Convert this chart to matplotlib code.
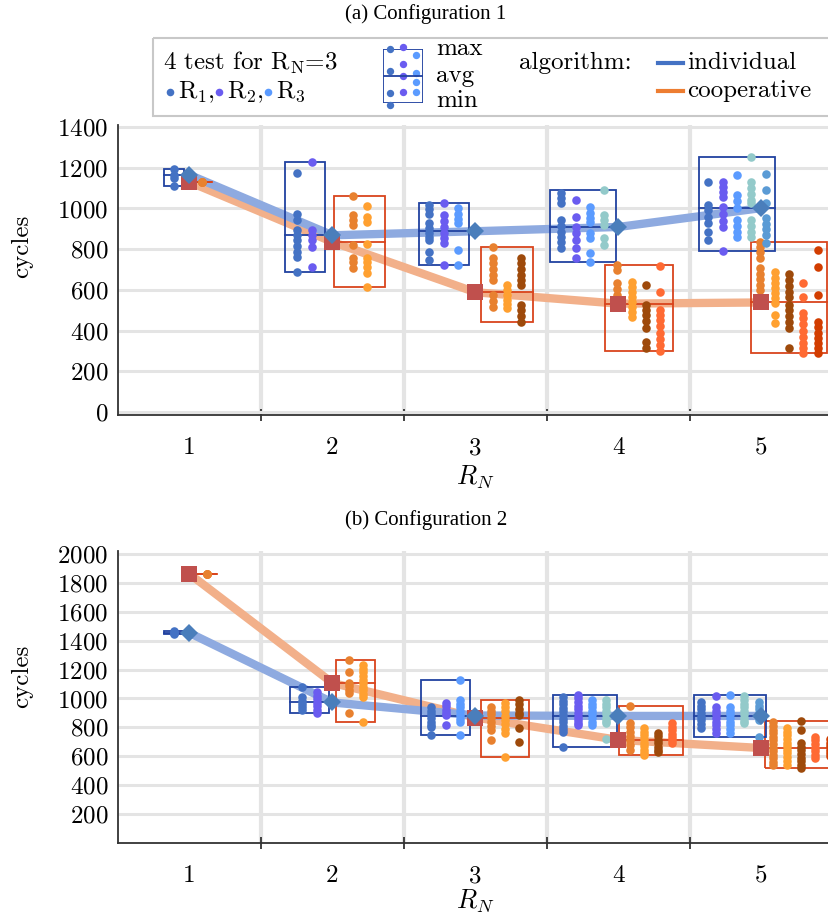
import matplotlib
matplotlib.use("Agg")
import matplotlib.pyplot as plt
from matplotlib.patches import Rectangle

plt.rcParams["font.family"] = "cmr10"
plt.rcParams["mathtext.fontset"] = "cm"
plt.rcParams["axes.formatter.use_mathtext"] = True

rn = [1, 2, 3, 4, 5]

# cycles per test, one list per robot
c1_ind = [
    [[1192, 1165, 1150, 1112]],
    [[1175, 975, 945, 895, 870, 845, 815, 785, 760, 690],
     [1230, 895, 870, 845, 810, 710]],
    [[1015, 995, 975, 930, 905, 880, 860, 845, 786, 747],
     [1027, 968, 940, 910, 880, 855, 830, 722],
     [1000, 975, 950, 930, 796, 722]],
    [[1076, 1050, 1027, 943, 915, 885, 860, 835, 806],
     [1042, 958, 909, 880, 845, 806, 757],
     [1007, 980, 955, 934, 880, 855, 781, 737],
     [1091, 968, 945, 919, 855, 820]],
    [[1130, 1017, 990, 960, 929, 885, 845],
     [1130, 1105, 1080, 1056, 1007, 975, 940, 909, 791],
     [1164, 1066, 1035, 1002, 943, 915, 885, 860],
     [1253, 1130, 1100, 1070, 1040, 1027, 943, 915, 885, 860],
     [1170, 1091, 1027, 953, 925, 900, 870, 830]],
]
c1_coop = [
    [[1130, 1130, 1130, 1130]],
    [[1061, 968, 945, 920, 820, 757, 735, 708],
     [1012, 958, 934, 825, 757, 735, 710, 683, 614]],
    [[811, 757, 730, 700, 675, 649, 575, 545, 516],
     [624, 600, 575, 550, 530, 511],
     [757, 730, 700, 675, 650, 624, 526, 500, 470, 442]],
    [[722, 698, 634, 605, 575, 536],
     [639, 615, 590, 565, 540, 515, 490, 467],
     [624, 526, 500, 475, 445, 413, 344, 315],
     [717, 590, 501, 475, 450, 420, 390, 360, 330, 300]],
    [[835, 810, 785, 757, 708, 680, 655, 625, 600],
     [688, 660, 635, 610, 585, 560, 536, 477, 437],
     [678, 650, 620, 590, 565, 526, 500, 470, 440, 413, 315],
     [634, 565, 487, 460, 430, 400, 370, 340, 315, 290],
     [796, 713, 575, 442, 415, 390, 365, 340, 315, 290]],
]
c1_ind_avg = [1165, 868, 888, 909, 1002]
c1_coop_avg = [1130, 835, 588, 532, 538]

c2_ind = [
    [[1445, 1450, 1455, 1465]],
    [[1080, 1010, 985, 960, 940, 920],
     [1045, 1020, 995, 970, 945, 920, 900]],
    [[941, 915, 890, 865, 840, 815, 803, 747],
     [969, 945, 920, 900, 886, 817],
     [1128, 990, 965, 940, 910, 885, 860, 837, 747]],
    [[1010, 985, 960, 935, 910, 885, 860, 835, 810, 790, 768, 664],
     [1024, 1000, 975, 950, 925, 900, 875, 850, 830, 817],
     [990, 965, 940, 915, 890, 865, 840, 817],
     [990, 965, 940, 915, 890, 865, 845, 830, 720]],
    [[976, 950, 925, 900, 875, 850, 825, 796],
     [1017, 941, 915, 890, 865, 840, 815, 790, 761],
     [1024, 941, 915, 890, 865, 840, 815, 790, 761],
     [1017, 990, 965, 940, 915, 890, 865, 845, 830],
     [976, 950, 925, 900, 875, 851, 734]],
]
c2_coop = [
    [[1860, 1860, 1860, 1860]],
    [[1266, 1183, 1107, 1085, 1060, 1038, 900],
     [1232, 1205, 1180, 1155, 1130, 1105, 1080, 1055, 1030, 1010, 837]],
    [[941, 915, 890, 865, 840, 810, 782, 713],
     [969, 940, 910, 880, 850, 820, 790, 761, 595],
     [990, 960, 930, 900, 886, 796, 699]],
    [[948, 830, 800, 770, 740, 710, 680, 644],
     [796, 770, 745, 720, 695, 670, 645, 620, 609],
     [761, 740, 715, 690, 665, 645, 630],
     [830, 805, 780, 755, 730, 710, 692]],
    [[837, 810, 785, 760, 735, 710, 685, 660, 635, 610, 585, 560, 540],
     [796, 770, 745, 720, 695, 670, 645, 620, 595, 570, 540],
     [844, 782, 692, 665, 640, 615, 590, 565, 540, 519],
     [734, 710, 685, 660, 635, 610, 588],
     [720, 695, 670, 645, 620, 600]],
]
c2_ind_avg = [1453, 972, 882, 879, 879]
c2_coop_avg = [1861, 1107, 868, 713, 657]

# legend sample (max / avg / min icon), arbitrary units
icon_cols = [[1.0, 0.6, 0.18, -0.03], [1.03, 0.73, 0.5, 0.2], [0.88, 0.56, 0.38, 0.2]]
icon_avg = 0.5

ind_colors = ["#4472C4", "#6A5CF0", "#5B9BFF", "#93CACA", "#5B9BD5"]
coop_colors = ["#E8812F", "#FFA030", "#9E4A0B", "#FF6A33", "#D23D00"]

# layout: offset of first dot column from the integer position
c1_ind_off = [-0.105, -0.245, -0.322, -0.399, -0.371]
c1_coop_off = [0.09, 0.14, 0.119, -0.007, -0.007]
c2_ind_off = [-0.105, -0.21, -0.308, -0.385, -0.42]
c2_coop_off = [0.12, 0.112, 0.105, 0.077, 0.077]
c1_pads = [0.07, 0.09, 0.075, 0.08, 0.065]
c1_coop_pads = [0.07, 0.13, 0.08, 0.085, 0.065]
c2_pads = [0.07, 0.085, 0.07, 0.075, 0.05]
col_step = 0.1


def draw_group(ax, clusters, avgs, offsets, pads, colors, box_col, line_col,
               marker, mcol, msize):
    ax.plot(rn, avgs, color=line_col, lw=6, zorder=2, solid_capstyle="butt")
    for n, cols, avg, off, pad in zip(rn, clusters, avgs, offsets, pads):
        xs = [n + off + i * col_step for i in range(len(cols))]
        allv = [v for c in cols for v in c]
        lo, hi = min(allv), max(allv)
        left, right = xs[0] - pad, xs[-1] + pad
        ax.add_patch(Rectangle((left, lo), right - left, hi - lo, fill=False,
                               ec=box_col, lw=1.3, zorder=3))
        ax.plot([left, right], [avg, avg], color=box_col, lw=1.3, zorder=3)
        for x, c, col in zip(xs, cols, colors):
            ax.scatter([x] * len(c), c, s=38, color=col, lw=0, zorder=4)
    ax.plot(rn, avgs, ls="none", marker=marker, ms=msize, color=mcol,
            mew=0, zorder=5)


def style(ax, ylim, yticks, ylab_y, xlab_pad):
    ax.set_xlim(0.5, 5.5)
    ax.set_ylim(*ylim)
    ax.set_yticks(yticks)
    ax.set_xticks([1.5, 2.5, 3.5, 4.5, 5.5])
    ax.set_xticklabels([])
    ax.set_xticks(rn, minor=True)
    ax.set_xticklabels([str(n) for n in rn], minor=True)
    ax.tick_params(axis="x", which="major", direction="inout", length=8,
                   width=1.3, color="#333333")
    ax.tick_params(axis="x", which="minor", length=0, pad=16, labelsize=18)
    ax.tick_params(axis="y", length=0, pad=7, labelsize=18)
    ax.grid(True, axis="x", which="major", color="#E4E4E4", lw=3)
    ax.grid(True, axis="y", color="#E4E4E4", lw=2.2)
    ax.set_axisbelow(True)
    for s in ["top", "right"]:
        ax.spines[s].set_visible(False)
    for s in ["left", "bottom"]:
        ax.spines[s].set_linewidth(1.3)
        ax.spines[s].set_color("#333333")
    ax.set_xlabel("$R_N$", fontsize=19, labelpad=xlab_pad)
    ax.set_ylabel("cycles", fontsize=18)
    ax.yaxis.set_label_coords(-0.119, ylab_y)


fig = plt.figure(figsize=(8.29, 9.15), dpi=100)

W, H = 829, 915
ax1 = fig.add_axes([118 / W, 1 - 415 / H, 715 / W, 290 / H])
ax2 = fig.add_axes([118 / W, 1 - 843 / H, 715 / W, 292 / H])

for ax, ind, coop, ia, ca, io, co, ip, cp in [
        (ax1, c1_ind, c1_coop, c1_ind_avg, c1_coop_avg, c1_ind_off, c1_coop_off, c1_pads, c1_coop_pads),
        (ax2, c2_ind, c2_coop, c2_ind_avg, c2_coop_avg, c2_ind_off, c2_coop_off, c2_pads, c2_pads)]:
    draw_group(ax, coop, ca, co, cp, coop_colors, "#D9441C", "#F2B08A",
               "s", "#C0504D", 11)
    draw_group(ax, ind, ia, io, ip, ind_colors, "#2142A0", "#8EAAE0",
               "D", "#4A7EBB", 9.5)

style(ax1, (-15, 1410), range(0, 1401, 200), 0.58, 3)
style(ax2, (0, 2020), range(200, 2001, 200), 0.572, 0)

fig.text(426 / W, 1 - 14 / H, "(a) Configuration 1", ha="center", va="center",
         family="Liberation Serif", fontsize=15)
fig.text(426 / W, 1 - 520 / H, "(b) Configuration 2", ha="center", va="center",
         family="Liberation Serif", fontsize=15)

# legend, drawn in pixel units of the figure
lax = fig.add_axes([0, 0, 1, 1], facecolor="none")
lax.set_xlim(0, W)
lax.set_ylim(H, 0)
lax.axis("off")
lax.add_patch(Rectangle((153, 38), 720, 78, fill=False, ec="#C8C8C8", lw=1.5))
lax.text(163, 63, r"4 test for R$_\mathrm{N}$=3", fontsize=18, va="center")
for i, lab in enumerate([r"R$_1$,", r"R$_2$,", r"R$_3$"]):
    lax.scatter([170 + 49 * i], [92], s=30, color=ind_colors[i], lw=0)
    lax.text(178 + 49 * i, 92, lab, fontsize=18, va="center")
for txt, y in [("max", 49), ("avg", 76), ("min", 101)]:
    lax.text(436, y, txt, fontsize=18, va="center")
lax.text(519, 63, "algorithm:", fontsize=18, va="center")
lax.plot([658, 683], [63, 63], color="#4472C4", lw=3)
lax.plot([658, 683], [91, 91], color="#ED7D31", lw=3)
lax.text(687, 63, "individual", fontsize=18, va="center")
lax.text(687, 91, "cooperative", fontsize=18, va="center")

iax = fig.add_axes([383 / W, 1 - 103 / H, 40 / W, 54 / H], facecolor="none")
iax.set_xlim(0, 1)
iax.set_ylim(0, 1)
iax.axis("off")
iax.add_patch(Rectangle((0, 0), 1, 1, fill=False, ec="#2142A0", lw=1.3))
iax.plot([0, 1], [icon_avg, icon_avg], color="#2142A0", lw=1.3)
for i, c in enumerate(icon_cols):
    iax.scatter([0.17 + 0.33 * i] * len(c), c, s=28, color=ind_colors[i],
                lw=0, clip_on=False)

fig.savefig("out.png", dpi=100)
